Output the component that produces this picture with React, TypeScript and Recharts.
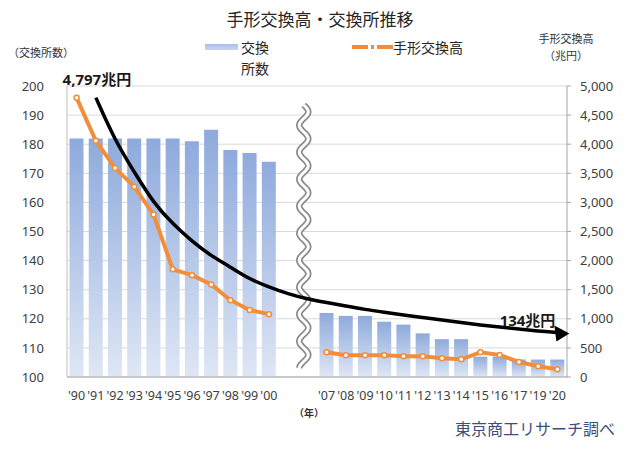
import {
  Bar,
  CartesianGrid,
  ComposedChart,
  Line,
  ReferenceArea,
  XAxis,
  YAxis,
} from "recharts";

// two empty slots ("g1", "g2") stand for the break between '00 and '07
const years = [
  "'90", "'91", "'92", "'93", "'94", "'95", "'96", "'97", "'98", "'99", "'00",
  "g1", "g2",
  "'07", "'08", "'09", "'10", "'11", "'12", "'13", "'14", "'15", "'16", "'17", "'19", "'20",
];

// 交換所数 (left axis)
const exchangeCounts = [
  182, 182, 182, 182, 182, 182, 181, 185, 178, 177, 174,
  null, null,
  122, 121, 121, 119, 118, 115, 113, 113, 107, 107, 106, 106, 106,
];

// 手形交換高, 兆円 (right axis)
const clearingAmounts = [
  4797, 4060, 3590, 3270, 2790, 1850, 1750, 1590, 1320, 1150, 1080,
  null, null,
  424, 373, 373, 373, 356, 356, 321, 304, 424, 378, 258, 184, 134,
];

// hand-drawn black trend arrow (right axis units)
const trendGuide = [
  null, 4800, 4060, 3520, 2990, 2630, 2330, 2080, 1890, 1680, 1546,
  1426, 1340,
  1280, 1220, 1160, 1112, 1065, 1022, 979, 936, 893, 859, 825, 790, 765,
];

const leftTicks = [100, 110, 120, 130, 140, 150, 160, 170, 180, 190, 200];
const rightTicks = [0, 500, 1000, 1500, 2000, 2500, 3000, 3500, 4000, 4500, 5000];

const data = years.map((year, i) => ({
  year,
  count: exchangeCounts[i],
  amount: clearingAmounts[i],
  trend: trendGuide[i],
}));

const FONT = "'Noto Sans', 'Noto Sans CJK JP', sans-serif";
const JP = "'Noto Sans CJK JP', sans-serif";
const ORANGE = "#F28E3A";

function WaveBreak(props: any) {
  const { x, y, width, height } = props;
  const cx = x + width / 2 + 6;
  const top = y + 19;
  const bottom = y + height - 9;
  let d = "";
  for (let yy = top; yy <= bottom; yy += 1) {
    const xx = cx + 4.5 * Math.sin(((yy - top) / 27) * Math.PI * 2);
    d += (d ? " L " : "M ") + xx.toFixed(2) + " " + yy;
  }
  return (
    <g>
      <path d={d} fill="none" stroke="#8c8c8c" strokeWidth={6.5} />
      <path d={d} fill="none" stroke="#ffffff" strokeWidth={3} />
    </g>
  );
}

function ArrowHead(props: any) {
  const { cx, cy, index } = props;
  if (index !== trendGuide.length - 1 || cx == null) return <g key={`a${index}`} />;
  return (
    <polygon
      key={`a${index}`}
      points={`${cx + 12},${cy + 1} ${cx - 3},${cy - 7} ${cx - 1},${cy + 9}`}
      fill="#000"
    />
  );
}

function AmountLabel(props: any) {
  const { x, y, index, value } = props;
  const last = clearingAmounts.length - 1;
  const text = `${Number(value).toLocaleString("en-US")}兆円`;
  if (index === 0) {
    return (
      <text x={x - 14} y={y - 13} fontSize={15} fontWeight={700} fill="#1a1a1a" fontFamily={FONT}>
        {text}
      </text>
    );
  }
  if (index === last) {
    return (
      <text x={x - 2} y={y - 43} textAnchor="end" fontSize={15} fontWeight={700} fill="#1a1a1a" fontFamily={FONT}>
        {text}
      </text>
    );
  }
  return null;
}

export default function App() {
  return (
    <div
      style={{
        position: "absolute",
        left: 0,
        top: 0,
        width: 640,
        height: 449,
        background: "#fff",
        fontFamily: JP,
        color: "#333",
      }}
    >
      <div style={{ position: "absolute", top: 6, left: 0, width: 640, textAlign: "center", fontSize: 17, color: "#262626" }}>
        手形交換高・交換所推移
      </div>

      {/* legend */}
      <div style={{ position: "absolute", left: 205, top: 44, width: 33, height: 6, background: "linear-gradient(#a9bfe6, #c9d6ef)" }} />
      <div style={{ position: "absolute", left: 241, top: 37, fontSize: 14, lineHeight: "21px", color: "#262626" }}>
        交換
        <br />
        所数
      </div>
      <svg style={{ position: "absolute", left: 352, top: 42 }} width={42} height={10}>
        <line x1={0} y1={5} x2={42} y2={5} stroke={ORANGE} strokeWidth={4} strokeDasharray="16 3 3 3" />
      </svg>
      <div style={{ position: "absolute", left: 393, top: 37, fontSize: 14, lineHeight: "21px", color: "#262626" }}>
        手形交換高
      </div>

      {/* axis titles */}
      <div style={{ position: "absolute", left: 8, top: 44, fontSize: 11, color: "#333" }}>（交換所数）</div>
      <div style={{ position: "absolute", left: 528, top: 30, width: 76, textAlign: "center", fontSize: 11, lineHeight: "17px", color: "#333" }}>
        手形交換高
        <br />
        （兆円）
      </div>

      <ComposedChart
        width={640}
        height={449}
        data={data}
        margin={{ top: 86, right: 0, bottom: 42, left: 0 }}
        barCategoryGap="13%"
      >
        <defs>
          <linearGradient id="barFill" x1="0" y1="0" x2="0" y2="1">
            <stop offset="0%" stopColor="#8eaadc" />
            <stop offset="100%" stopColor="#dfe7f5" />
          </linearGradient>
        </defs>
        <CartesianGrid yAxisId="left" vertical={false} stroke="#d9d9d9" />
        <XAxis
          dataKey="year"
          interval={0}
          tickLine={false}
          tickMargin={8}
          axisLine={{ stroke: "#a6a6a6" }}
          tickFormatter={(v: string) => (v.startsWith("g") ? "" : v)}
          tick={{ fontSize: 12.5, fill: "#404040", fontFamily: FONT }}
        />
        <YAxis
          yAxisId="left"
          orientation="left"
          width={67}
          domain={[100, 200]}
          ticks={leftTicks}
          tickLine={false}
          tickMargin={17}
          axisLine={{ stroke: "#bfbfbf" }}
          tick={{ fontSize: 13, fill: "#404040", fontFamily: FONT }}
        />
        <YAxis
          yAxisId="right"
          orientation="right"
          width={73}
          domain={[0, 5000]}
          ticks={rightTicks}
          tickSize={4}
          tickMargin={9}
          tickLine={{ stroke: "#a6a6a6" }}
          axisLine={{ stroke: "#a6a6a6" }}
          tickFormatter={(v: number) => v.toLocaleString("en-US")}
          tick={{ fontSize: 13, fill: "#404040", fontFamily: FONT }}
        />
        <Bar yAxisId="left" dataKey="count" fill="url(#barFill)" isAnimationActive={false} />
        <ReferenceArea yAxisId="left" x1="g1" x2="g2" fill="none" stroke="none" shape={WaveBreak} />
        <Line
          yAxisId="right"
          dataKey="amount"
          stroke={ORANGE}
          strokeWidth={4}
          dot={{ r: 2.5, fill: "#fff", stroke: ORANGE, strokeWidth: 1.5 }}
          label={AmountLabel}
          isAnimationActive={false}
        />
        <Line
          yAxisId="right"
          dataKey="trend"
          type="basis"
          stroke="#000"
          strokeWidth={3.5}
          dot={ArrowHead}
          activeDot={false}
          isAnimationActive={false}
        />
      </ComposedChart>

      <div style={{ position: "absolute", left: 294, top: 405, fontSize: 10, fontWeight: 700, color: "#333" }}>（年）</div>
      <div style={{ position: "absolute", left: 455, top: 416, fontSize: 16, color: "#3a4f7a" }}>東京商工リサーチ調べ</div>
    </div>
  );
}
